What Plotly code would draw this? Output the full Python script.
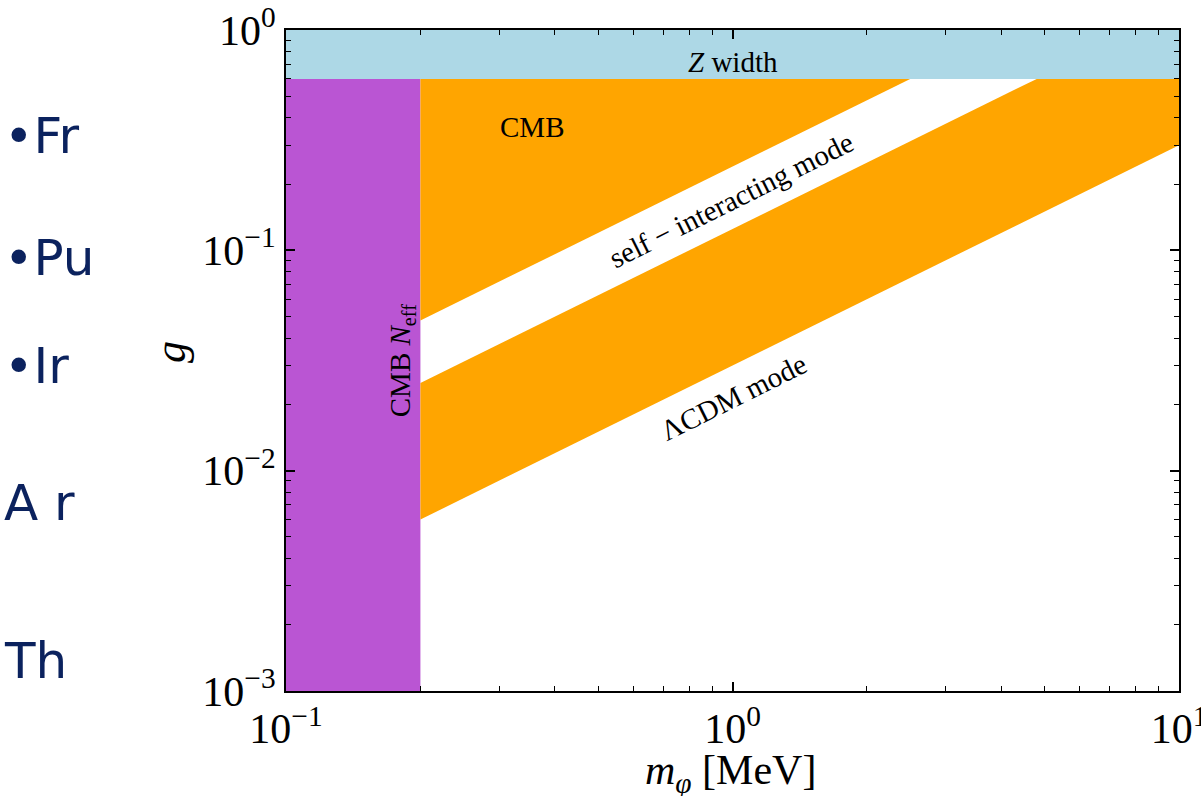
import plotly.graph_objects as go

# ---- data ----
m_range = [0.1, 10.0]          # m_phi [MeV]
g_range = [1e-3, 1.0]
g_zwidth = 0.6                  # Z width bound
m_neff = 0.2                    # CMB N_eff bound
# self-interacting mode band edges (log-log straight lines)
upper_edge_m = [0.2, 2.5]
upper_edge_g = [0.048, 0.6]
lower_edge_m = [0.2, 4.8]
lower_edge_g = [0.025, 0.6]
# Lambda-CDM band lower edge
lcdm_low_m = [0.2, 10.0]
lcdm_low_g = [0.006, 0.3]

x_tickvals = [0.1, 1, 10]
x_ticktext = ["10<sup>−1</sup>", "10<sup>0</sup>", "10<sup>1</sup>"]
y_tickvals = [0.001, 0.01, 0.1, 1]
y_ticktext = ["10<sup>−3</sup>", "10<sup>−2</sup>", "10<sup>−1</sup>", "10<sup>0</sup>"]

slide_lines = ["•Fr", "•Pu", "•Ir", "A r", "Th"]
slide_y = [136, 258, 366, 503, 661]

PURPLE = "#BA55D3"
ORANGE = "#FFA500"
LBLUE = "#ADD8E6"
SERIF = "Liberation Serif"

fig = go.Figure()

def poly(xs, ys, color):
    fig.add_trace(go.Scatter(x=xs, y=ys, fill="toself", fillcolor=color,
                             mode="lines", line=dict(width=0, color=color),
                             hoverinfo="skip", showlegend=False))

# Z width band
poly([m_range[0], m_range[1], m_range[1], m_range[0]],
     [g_zwidth, g_zwidth, g_range[1], g_range[1]], LBLUE)
# CMB N_eff band
poly([m_range[0], m_neff, m_neff, m_range[0]],
     [g_range[0], g_range[0], g_zwidth, g_zwidth], PURPLE)
# CMB excluded (above self-interacting band)
poly([upper_edge_m[0], upper_edge_m[0], upper_edge_m[1]],
     [upper_edge_g[0], g_zwidth, upper_edge_g[1]], ORANGE)
# Lambda-CDM band (and right part up to Z width)
poly([lcdm_low_m[0], lower_edge_m[0], lower_edge_m[1], m_range[1], lcdm_low_m[1]],
     [lcdm_low_g[0], lower_edge_g[0], lower_edge_g[1], g_zwidth, lcdm_low_g[1]], ORANGE)

# pixel geometry: plot from x=286..1179, y=30..691
W, H = 1201, 796
L, R, T, B = 286, 22, 30, 105

minor_x = [k * 0.1 for k in range(2, 10)] + [float(k) for k in range(2, 10)]
minor_y = [k * 1e-3 for k in range(2, 10)] + [k * 1e-2 for k in range(2, 10)] + [k * 1e-1 for k in range(2, 10)]

axis_common = dict(
    showgrid=False, zeroline=False, showline=True, linecolor="black", linewidth=2,
    mirror="ticks", ticks="inside", ticklen=9, tickwidth=1.5, tickcolor="black",
    tickfont=dict(family=SERIF, size=42, color="black"),
    ticklabeloverflow="allow", automargin=False,
)

fig.update_xaxes(type="log", range=[-1, 1], tickvals=x_tickvals, ticktext=x_ticktext,
                 minor=dict(tickvals=minor_x, ticks="inside", ticklen=5, tickwidth=1,
                            tickcolor="black", showgrid=False),
                 **axis_common)
fig.update_yaxes(type="log", range=[-3, 0], tickvals=y_tickvals, ticktext=y_ticktext,
                 minor=dict(tickvals=minor_y, ticks="inside", ticklen=5, tickwidth=1,
                            tickcolor="black", showgrid=False),
                 **axis_common)

ann = []
lab_font = dict(family=SERIF, size=29, color="black")
def dann(x, y, text, angle=0):
    ann.append(dict(x=x, y=y, xref="x", yref="y", text=text, textangle=angle,
                    xanchor="center", yanchor="middle", showarrow=False, font=lab_font))

dann(0.0, -0.145, "<i>Z</i> width")
dann(-0.449, -0.44, "CMB")
dann(-0.74, -1.503, "CMB <i>N</i><sub>eff</sub>", -90)
dann(-0.003, -0.772, "self − interacting mode", -26.5)
dann(0.003, -1.666, "ΛCDM mode", -26.5)

def px(xp):
    return (xp - L) / (W - L - R)

def py(yp):
    return (H - B - yp) / (H - T - B)

# axis titles
ann.append(dict(x=px(170), y=py(352), xref="paper", yref="paper", text="<i>g</i>",
                textangle=-90, xanchor="center", yanchor="middle",
                showarrow=False, font=dict(family=SERIF, size=44, color="black")))
ann.append(dict(x=px(730), y=py(773), xref="paper", yref="paper",
                text="<i>m</i><sub><i>φ</i></sub> [MeV]", xanchor="center", yanchor="middle",
                showarrow=False, font=dict(family=SERIF, size=42, color="black")))
# slide text left of chart
for t, yp in zip(slide_lines, slide_y):
    ann.append(dict(x=px(2), y=py(yp), xref="paper", yref="paper",
                    xanchor="left", yanchor="middle", text=t, showarrow=False,
                    font=dict(family="DejaVu Sans", size=50, color="#0b225e")))

fig.update_layout(
    width=W, height=H, margin=dict(l=L, r=R, t=T, b=B, autoexpand=False),
    paper_bgcolor="white", plot_bgcolor="white",
    annotations=ann, showlegend=False,
)

fig.write_html("out.html")
